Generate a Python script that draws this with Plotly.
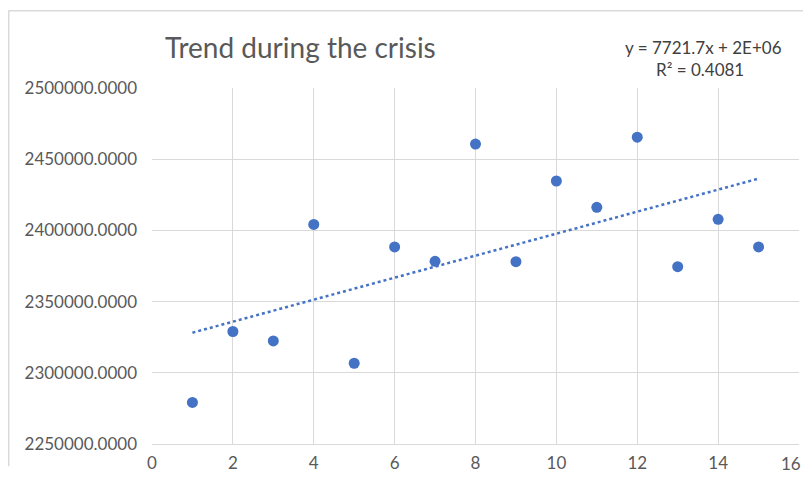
import numpy as np
import plotly.graph_objects as go

# データ
periods = [1, 2, 3, 4, 5, 6, 7, 8, 9, 10, 11, 12, 13, 14, 15]
values = [2279200, 2329000, 2322400, 2404200, 2306700, 2388400, 2378300,
          2460600, 2378000, 2434700, 2416200, 2465500, 2374500, 2407800, 2388400]
x_max = 16
title_text = "Trend during the crisis"
equation_text = "y = 7721.7x + 2E+06"
r2_text = "R² = 0.4081"

BLUE = "#4472C4"
GRID = "#d9d9d9"
TEXT = "#595959"
FONT = "Lato, 'Open Sans', sans-serif"

# 近似直線
slope, intercept = np.polyfit(periods, values, 1)
trend_x = [periods[0], periods[-1]]
trend_y = [slope * v + intercept for v in trend_x]

# ページの body 余白 (8px) を考慮したプロット領域 (画面座標)
PX0, PY_TOP, PW, PH = 152, 88, 647, 366


def px(x):
    return (x - PX0) / PW


def py(y):
    return (PY_TOP + PH - y) / PH


fig = go.Figure()
fig.add_trace(go.Scatter(
    x=trend_x, y=trend_y, mode="lines",
    line=dict(color=BLUE, width=2.5, dash="dot"),
    hoverinfo="skip", showlegend=False
))
fig.add_trace(go.Scatter(
    x=periods, y=values, mode="markers",
    marker=dict(color=BLUE, size=11),
    showlegend=False
))

fig.update_xaxes(
    range=[0, x_max], dtick=2, tick0=0,
    showgrid=True, gridcolor=GRID, gridwidth=1,
    zeroline=False, showline=True, linecolor=GRID, linewidth=1,
    ticks="", ticklabelstandoff=4,
    tickfont=dict(size=17, color=TEXT, family=FONT)
)
fig.update_yaxes(
    range=[2250000, 2500000], dtick=50000,
    showgrid=True, gridcolor=GRID, gridwidth=1,
    zeroline=False, showline=False,
    tickformat=".4f", ticks="", ticklabelstandoff=14,
    tickfont=dict(size=17, color=TEXT, family=FONT)
)

# ページからはみ出さない大きさ (8 + 796 + 8 = 812)
W, H = 796, 470
fig.update_layout(
    width=W, height=H,
    margin=dict(l=PX0 - 8, r=W - (PX0 - 8) - PW, t=PY_TOP - 8,
                b=H - (PY_TOP - 8) - PH),
    paper_bgcolor="white", plot_bgcolor="white",
    font=dict(family=FONT, color=TEXT),
    annotations=[
        dict(text=title_text, xref="paper", yref="paper",
             x=px(163), y=py(46),
             xanchor="left", yanchor="middle", showarrow=False,
             font=dict(size=28, color=TEXT, family=FONT)),
        dict(text=equation_text, xref="paper", yref="paper",
             x=px(703), y=py(46),
             xanchor="center", yanchor="middle", showarrow=False,
             font=dict(size=17, color="#404040", family=FONT)),
        dict(text=r2_text, xref="paper", yref="paper",
             x=px(700), y=py(69),
             xanchor="center", yanchor="middle", showarrow=False,
             font=dict(size=17, color="#404040", family=FONT)),
        # 端の目盛りラベルは図の右端で切れるので注釈で描く
        dict(text=str(x_max), xref="paper", yref="paper",
             x=px(803), y=py(474),
             xanchor="right", yanchor="middle", showarrow=False,
             font=dict(size=17, color=TEXT, family=FONT)),
    ],
    shapes=[
        dict(type="line", xref="paper", yref="paper",
             x0=px(8.5), x1=px(803), y0=py(8.7), y1=py(8.7),
             line=dict(color=GRID, width=1.5)),
        dict(type="line", xref="paper", yref="paper",
             x0=px(8.7), x1=px(8.7), y0=py(477), y1=py(8.5),
             line=dict(color=GRID, width=1.5)),
    ],
)

fig.write_html("out.html", config=dict(displayModeBar=False))
